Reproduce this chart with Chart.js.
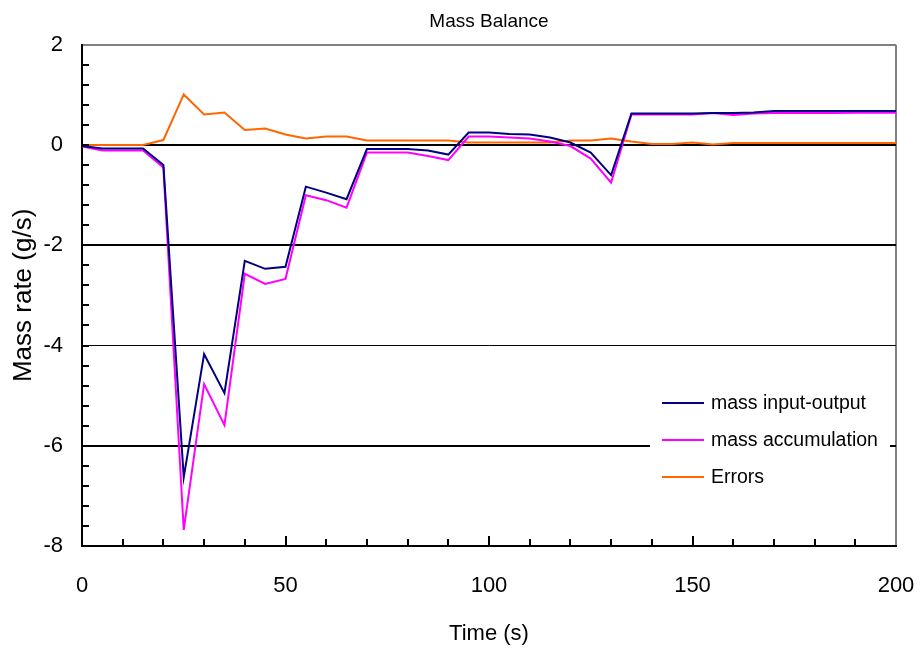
<!DOCTYPE html>
<html>
<head>
<meta charset="utf-8">
<script src="https://cdn.jsdelivr.net/npm/chart.js@4.4.0/dist/chart.umd.min.js"></script>
<style>
  html, body { margin: 0; padding: 0; background: #fff; }
  #wrap { width: 922px; height: 651px; }
</style>
</head>
<body>
<div id="wrap"><canvas id="mass_chart"></canvas></div>
<script>
// time axis (s)
var times = [0,5,10,15,20,25,30,35,40,45,50,55,60,65,70,75,80,85,90,95,100,
             105,110,115,120,125,130,135,140,145,150,155,160,165,170,175,180,185,190,195,200];

var massInOut = [-0.02,-0.07,-0.07,-0.07,-0.40,-6.63,-4.17,-4.95,-2.31,-2.47,-2.43,-0.83,-0.95,-1.08,-0.08,-0.08,-0.08,-0.11,-0.19,0.25,0.25,
                 0.22,0.21,0.15,0.05,-0.15,-0.60,0.63,0.63,0.63,0.63,0.64,0.64,0.65,0.68,0.68,0.68,0.68,0.68,0.68,0.68];

var massAccum = [-0.03,-0.11,-0.11,-0.11,-0.45,-7.68,-4.77,-5.59,-2.57,-2.77,-2.67,-1.00,-1.10,-1.25,-0.15,-0.15,-0.15,-0.22,-0.30,0.17,0.17,
                 0.15,0.13,0.07,-0.02,-0.27,-0.75,0.61,0.61,0.61,0.61,0.64,0.60,0.63,0.64,0.64,0.64,0.64,0.645,0.645,0.645];

var errors = [0,0,0,0,0.10,1.01,0.61,0.65,0.30,0.33,0.21,0.13,0.17,0.17,0.09,0.09,0.09,0.09,0.09,0.05,0.05,
              0.05,0.05,0.05,0.09,0.09,0.13,0.07,0.02,0.02,0.05,0.01,0.04,0.04,0.04,0.04,0.04,0.04,0.04,0.04,0.04];

var seriesLabels = ['mass input-output', 'mass accumulation', 'Errors'];
var seriesColors = ['#000080', '#FF00FF', '#FF6600'];

var FONT = '"Liberation Sans", Arial, sans-serif';

function toPoints(vals) {
    return times.map(function (t, i) { return { x: t, y: vals[i] }; });
}

//------------------------------------- minor ticks inside plot -------------------------------------//
var tickMarks = {
    id: 'tickMarks',
    afterDraw: function (chart) {
        var ctx = chart.ctx, x = chart.scales.x, y = chart.scales.y;
        var a = chart.chartArea;
        ctx.save();
        ctx.strokeStyle = '#000';
        ctx.lineWidth = 2;
        ctx.beginPath();
        for (var t = 10; t < 200; t += 10) {
            var px = Math.round(x.getPixelForValue(t));
            var len = (t % 50 === 0) ? 10 : 7;
            ctx.moveTo(px, a.bottom);
            ctx.lineTo(px, a.bottom - len);
        }
        for (var v = -8; v < 2; v += 0.4) {
            var py = Math.round(y.getPixelForValue(v));
            ctx.moveTo(a.left, py);
            ctx.lineTo(a.left + 7, py);
        }
        ctx.stroke();
        ctx.restore();
    }
};

//------------------------------------- legend inside plot -------------------------------------//
var innerLegend = {
    id: 'innerLegend',
    afterDraw: function (chart) {
        var ctx = chart.ctx;
        ctx.save();
        ctx.fillStyle = '#fff';
        ctx.fillRect(650, 388, 240, 105);
        ctx.font = '19.5px ' + FONT;
        ctx.textBaseline = 'middle';
        chart.data.datasets.forEach(function (ds, i) {
            var ly = 403 + i * 37;
            ctx.strokeStyle = ds.borderColor;
            ctx.lineWidth = 2;
            ctx.beginPath();
            ctx.moveTo(662, ly);
            ctx.lineTo(704, ly);
            ctx.stroke();
            ctx.fillStyle = '#000';
            ctx.fillText(ds.label, 711, ly + 1);
        });
        ctx.restore();
    }
};

var gridWidths = { '2': 2, '0': 2, '-2': 2, '-4': 1, '-6': 2, '-8': 0 };

new Chart(document.getElementById('mass_chart'), {
    type: 'line',
    data: {
        datasets: seriesLabels.map(function (lbl, i) {
            return {
                label: lbl,
                data: toPoints([massInOut, massAccum, errors][i]),
                borderColor: seriesColors[i],
                borderWidth: 2,
                pointRadius: 0,
                tension: 0,
                fill: false
            };
        })
    },
    options: {
        responsive: true,
        maintainAspectRatio: false,
        animation: false,
        layout: { padding: { right: 26, left: 0, top: 0, bottom: 0 } },
        plugins: {
            legend: { display: false },
            tooltip: { enabled: false },
            title: {
                display: true,
                text: 'Mass Balance',
                fullSize: false,
                color: '#000',
                font: { family: FONT, size: 19, weight: 'normal' },
                padding: { top: 10, bottom: 12 }
            }
        },
        scales: {
            x: {
                type: 'linear',
                min: 0,
                max: 200,
                afterFit: function (s) { s.height = 105; s.paddingLeft = 0; s.paddingRight = 0; },
                ticks: {
                    stepSize: 50,
                    padding: 27,
                    color: '#000',
                    font: { family: FONT, size: 22 }
                },
                grid: {
                    drawTicks: false,
                    color: function (c) { return c.tick && c.tick.value === 200 ? '#808080' : 'rgba(0,0,0,0)'; },
                    lineWidth: 2
                },
                border: { color: '#000', width: 2 },
                title: {
                    display: true,
                    text: 'Time (s)',
                    color: '#000',
                    font: { family: FONT, size: 22 },
                    padding: { top: 0, bottom: 4 }
                }
            },
            y: {
                min: -8,
                max: 2,
                afterFit: function (s) { s.width = 82; s.paddingTop = 0; s.paddingBottom = 0; },
                ticks: {
                    stepSize: 2,
                    padding: 19,
                    color: '#000',
                    font: { family: FONT, size: 22 }
                },
                grid: {
                    drawTicks: false,
                    color: function (c) { return c.tick && c.tick.value === 2 ? '#808080' : '#000'; },
                    lineWidth: function (c) { return c.tick ? (gridWidths[String(c.tick.value)] || 0) : 0; }
                },
                border: { color: '#000', width: 2 },
                title: {
                    display: true,
                    text: 'Mass rate (g/s)',
                    color: '#000',
                    font: { family: FONT, size: 26 },
                    padding: { top: 8, bottom: 0 }
                }
            }
        }
    },
    plugins: [tickMarks, innerLegend]
});
</script>
</body>
</html>
